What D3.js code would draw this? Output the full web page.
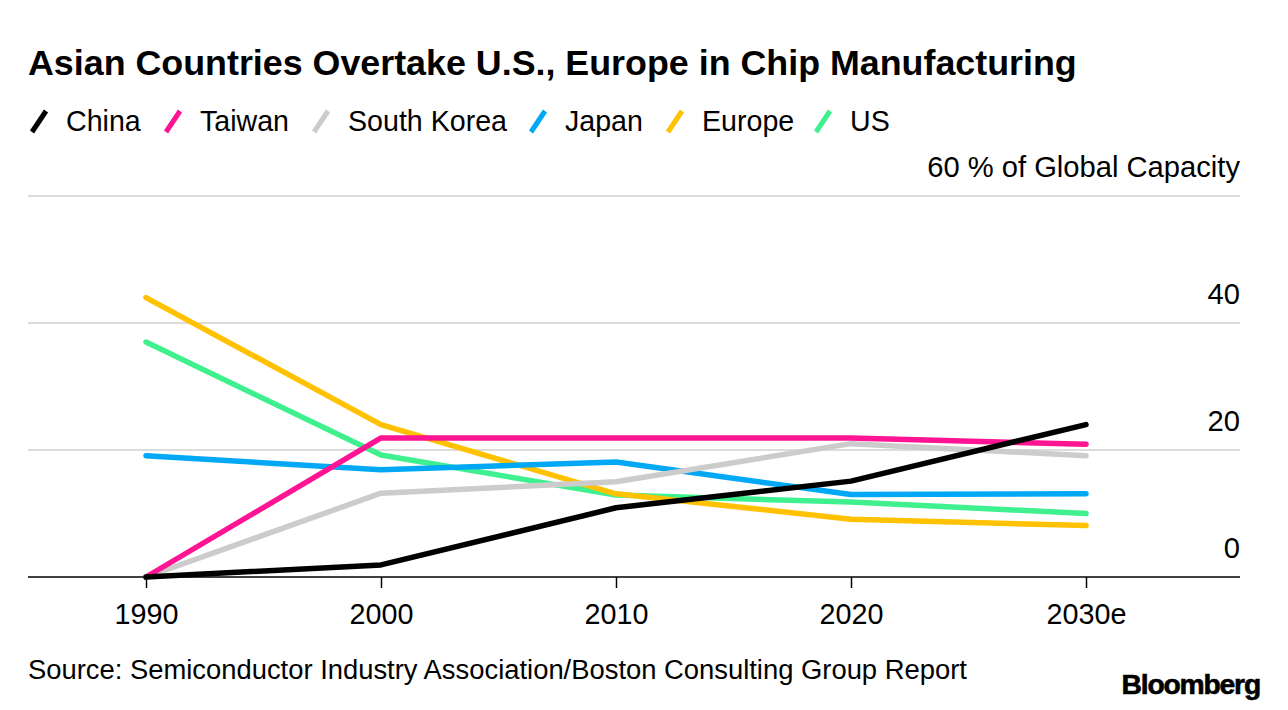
<!DOCTYPE html>
<html>
<head>
<meta charset="utf-8">
<script src="https://cdn.jsdelivr.net/npm/d3@7"></script>
<style>
  html, body { margin: 0; padding: 0; background: #fff; }
  svg { display: block; font-family: "Liberation Sans", Arial, Helvetica, sans-serif; }
</style>
</head>
<body>
<svg id="chart" width="1288" height="710"></svg>
<script>
// ---- Data ----
const years = ["1990", "2000", "2010", "2020", "2030e"];
const china = [0, 1.9, 10.9, 15.1, 24.0];
const taiwan = [0, 21.9, 21.9, 21.9, 20.9];
const southKorea = [0, 13.2, 15.0, 21.0, 19.1];
const japan = [19.1, 16.9, 18.1, 13.0, 13.1];
const europe = [44.0, 24.0, 13.1, 9.1, 8.1];
const us = [37.0, 19.2, 12.9, 11.8, 10.0];
const seriesNames = ["China", "Taiwan", "South Korea", "Japan", "Europe", "US"];
const seriesColors = ["#000000", "#ff1493", "#cccccc", "#00a8f5", "#ffc100", "#3ef08e"];
const yTicks = [0, 20, 40, 60];
const title = "Asian Countries Overtake U.S., Europe in Chip Manufacturing";
const unitLabel = "% of Global Capacity";
const source = "Source: Semiconductor Industry Association/Boston Consulting Group Report";

const seriesValues = [china, taiwan, southKorea, japan, europe, us];
const series = seriesNames.map((n, i) => ({ name: n, color: seriesColors[i], values: seriesValues[i] }));

const svg = d3.select("#chart");

// font size that makes a text reach a target width
function fitSize(sel, target) {
  const fs = parseFloat(sel.attr("font-size"));
  const w = sel.node().getComputedTextLength();
  return fs * target / w;
}
function fit(sel, target) {
  sel.attr("font-size", fitSize(sel, target).toFixed(2));
  return sel;
}

// ---- Title ----
const t = svg.append("text").attr("x", 28).attr("y", 75)
  .attr("font-size", 32).attr("font-weight", "bold").attr("fill", "#000")
  .text(title);
fit(t, 1049);

// ---- Legend ----
const legendX = [28, 162, 310, 527, 664, 812];
const legend = svg.append("g");
const legendTexts = [];
series.forEach((s, i) => {
  const g = legend.append("g").attr("transform", `translate(${legendX[i]},0)`);
  g.append("line").attr("x1", 4).attr("y1", 132).attr("x2", 18).attr("y2", 111)
    .attr("stroke", s.color).attr("stroke-width", 5).attr("stroke-linecap", "butt");
  legendTexts.push(g.append("text").attr("x", 38).attr("y", 131).attr("font-size", 27).attr("fill", "#000").text(s.name));
});
const lfs = fitSize(legendTexts[2], 159);
legendTexts.forEach(tx => tx.attr("font-size", lfs.toFixed(2)));

// ---- Scales ----
const x = d3.scalePoint().domain(years).range([146, 1086]);
const y = d3.scaleLinear().domain([0, 60]).range([577, 196]);
const left = 28, right = 1240;

// gridlines
svg.append("g").selectAll("line").data(yTicks.filter(d => d > 0)).join("line")
  .attr("x1", left).attr("x2", right)
  .attr("y1", d => y(d)).attr("y2", d => y(d))
  .attr("stroke", "#dcdcdc").attr("stroke-width", 2);

// y labels
const yl = svg.append("g").selectAll("text").data(yTicks).join("text")
  .attr("x", right).attr("y", d => y(d) - 19)
  .attr("text-anchor", "end").attr("font-size", 26).attr("fill", "#000")
  .text(d => d === 60 ? `${d} ${unitLabel}` : d);
const topLab = yl.filter(d => d === 60);
const yfs = fitSize(topLab, 313);
yl.attr("font-size", yfs.toFixed(2));

// x axis
const xAxis = d3.axisBottom(x).tickSize(11).tickPadding(16);
const xg = svg.append("g").attr("transform", `translate(0,${y(0)})`).call(xAxis);
xg.select(".domain").remove();
xg.selectAll(".tick line").attr("stroke", "#000").attr("stroke-width", 1.5);
xg.selectAll(".tick text").attr("font-size", 27).attr("fill", "#000")
  .attr("font-family", "Liberation Sans, Arial, sans-serif");
const firstTick = xg.select(".tick text");
const xfs = fitSize(firstTick, 64);
xg.selectAll(".tick text").attr("font-size", xfs.toFixed(2));
svg.append("line").attr("x1", left).attr("x2", right).attr("y1", y(0)).attr("y2", y(0))
  .attr("stroke", "#000").attr("stroke-width", 1.5);

// ---- Lines ----
const line = d3.line().x((d, i) => x(years[i])).y(d => y(d));
svg.append("g").selectAll("path").data(series.slice().reverse()).join("path")
  .attr("d", d => line(d.values))
  .attr("fill", "none").attr("stroke", d => d.color)
  .attr("stroke-width", 5.5).attr("stroke-linejoin", "round").attr("stroke-linecap", "round");

// ---- Footer ----
const src = svg.append("text").attr("x", 28).attr("y", 679).attr("font-size", 26).attr("fill", "#000").text(source);
fit(src, 939);
const logo = svg.append("text").attr("x", 1260).attr("y", 694).attr("text-anchor", "end")
  .attr("font-size", 27).attr("font-weight", "bold").attr("letter-spacing", -1.2)
  .attr("stroke", "#000").attr("stroke-width", 0.6).attr("fill", "#000").text("Bloomberg");
fit(logo, 138);
</script>
</body>
</html>
